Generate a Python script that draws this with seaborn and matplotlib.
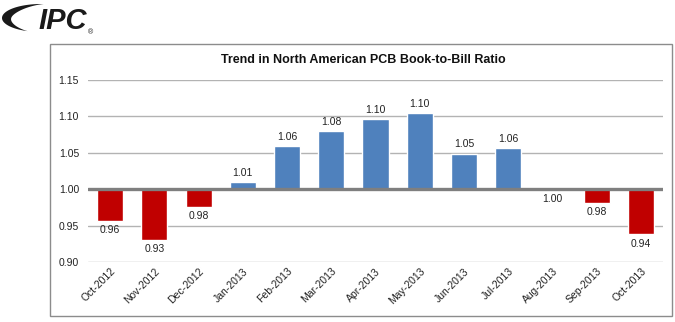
import matplotlib
matplotlib.use("Agg")
import matplotlib.pyplot as plt
import seaborn as sns
import pandas as pd
import numpy as np
from matplotlib.patches import Rectangle, Polygon
from matplotlib.ticker import FuncFormatter

months = ["Oct-2012", "Nov-2012", "Dec-2012", "Jan-2013", "Feb-2013", "Mar-2013",
          "Apr-2013", "May-2013", "Jun-2013", "Jul-2013", "Aug-2013", "Sep-2013", "Oct-2013"]
ratios = [0.956, 0.930, 0.976, 1.010, 1.059, 1.080, 1.096, 1.105, 1.049, 1.057, 0.999, 0.981, 0.938]
baseline = 1.0
title = "Trend in North American PCB Book-to-Bill Ratio"

sns.set_theme(style="white")
plt.rcParams["font.family"] = ["Liberation Sans", "DejaVu Sans"]

df = pd.DataFrame({"month": months, "ratio": ratios})
df["dev"] = df["ratio"] - baseline
df["dir"] = ["up" if r >= baseline else "down" for r in ratios]

W, H = 675, 322
fig = plt.figure(figsize=(6.75, 3.22), dpi=100)
ax = fig.add_axes([88 / W, 1 - 262 / H, 575 / W, 182 / H])

# chart frame
fig.patches.append(Rectangle((50 / W, 1 - 316 / H), 622 / W, 272 / H,
                             transform=fig.transFigure, fill=False,
                             edgecolor="#8c8c8c", linewidth=1.0, zorder=0))

sns.barplot(data=df, x="month", y="dev", hue="dir",
            palette={"up": "#4F81BD", "down": "#C00000"}, saturation=1,
            width=0.59, dodge=False, legend=False, ax=ax, zorder=3)

ax.set_ylim(0.90 - baseline, 1.15 - baseline)
ax.set_yticks([t - baseline for t in [0.90, 0.95, 1.00, 1.05, 1.10, 1.15]])
ax.yaxis.set_major_formatter(FuncFormatter(lambda v, p: f"{v + baseline:.2f}"))
ax.set_xlim(-0.5, len(months) - 0.5)
ax.grid(axis="y", color="#B3B3B3", linewidth=1.0, zorder=0)
ax.axhline(0, color="#7f7f7f", linewidth=2.4, zorder=4)
for s in ax.spines.values():
    s.set_visible(False)
ax.set_xlabel("")
ax.set_ylabel("")
ax.tick_params(axis="y", labelsize=7.5, colors="#222222", pad=6.5, length=0)
ax.tick_params(axis="x", labelsize=7.5, colors="#222222", length=0, pad=3)
plt.setp(ax.get_xticklabels(), rotation=45, ha="right", rotation_mode="anchor")

for i, r in enumerate(ratios):
    d = r - baseline
    if r >= baseline:
        ax.annotate(f"{r:.2f}", (i, d), xytext=(0, 3), textcoords="offset points",
                    ha="center", va="bottom", fontsize=7.5, color="#222222")
    else:
        ax.annotate(f"{r:.2f}", (i, d), xytext=(0, -3), textcoords="offset points",
                    ha="center", va="top", fontsize=7.5, color="#222222")

fig.text(363 / W, 1 - 60 / H, title, ha="center", va="center",
         fontsize=9, fontweight="bold", color="#111111")

# logo: tapered swoosh crescent
t = np.linspace(np.radians(86), np.radians(250), 80)
s = (t - t[0]) / (t[-1] - t[0])
th = 9.5 * np.sin(np.pi * s) ** 1.1
cx, cy, rx, ry = 41, 18, 39, 14
outer = np.c_[cx + rx * np.cos(t), cy - ry * np.sin(t)]
inner = np.c_[cx + (rx - th) * np.cos(t), cy - (ry - th * 0.6) * np.sin(t)]
pts = np.vstack([outer, inner[::-1]])
pts_fig = np.c_[pts[:, 0] / W, 1 - pts[:, 1] / H]
fig.patches.append(Polygon(pts_fig, closed=True, transform=fig.transFigure,
                           facecolor="#1a1a1a", edgecolor="none"))
fig.text(38 / W, 1 - 21 / H, "IPC", ha="left", va="center", fontsize=21,
         fontweight="heavy", style="italic", color="#1a1a1a")
fig.text(88 / W, 1 - 33 / H, "®", ha="left", va="center", fontsize=5, color="#1a1a1a")

fig.savefig("out.png", dpi=100)
